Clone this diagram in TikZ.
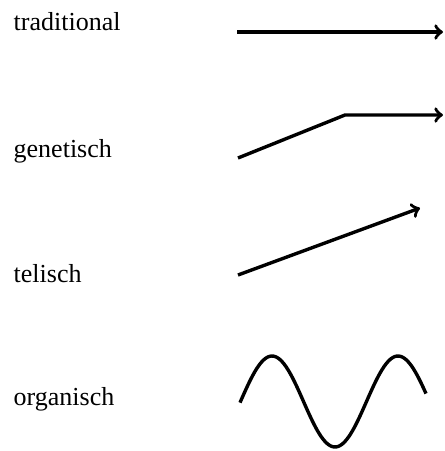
\documentclass[tikz,border=0pt]{standalone}
\usepackage{fontspec}
\setmainfont{Liberation Serif}

\begin{document}
\begin{tikzpicture}[x=0.5pt,y=-0.5pt,line width=1.7pt,
    label/.style={anchor=base west,inner sep=0pt,font=\fontsize{13}{16}\selectfont}]
  \useasboundingbox (0,0) rectangle (445,451);

  \draw (12,30) node[label] (trad) {traditional};
  \draw (12,157) node[label] (gen) {genetisch};
  \draw (12,282) node[label] (tel) {telisch};
  \draw (12,405) node[label] (org) {organisch};

  \coordinate (trada) at (237,32);
  \coordinate (tradb) at (443,32);
  \coordinate (gena) at (238,158);
  \coordinate (genb) at (345,115);
  \coordinate (genc) at (443,115);
  \coordinate (tela) at (238,275);
  \coordinate (telb) at (420,208);

  \draw[->] (trada) -- (tradb);
  \draw[->] (gena) -- (genb) -- (genc);
  \draw[->] (tela) -- (telb);
  \draw plot[domain=240:426,samples=90,smooth] (\x,{401.5-45.5*sin((\x-240.5)*2.857)});
\end{tikzpicture}
\end{document}
